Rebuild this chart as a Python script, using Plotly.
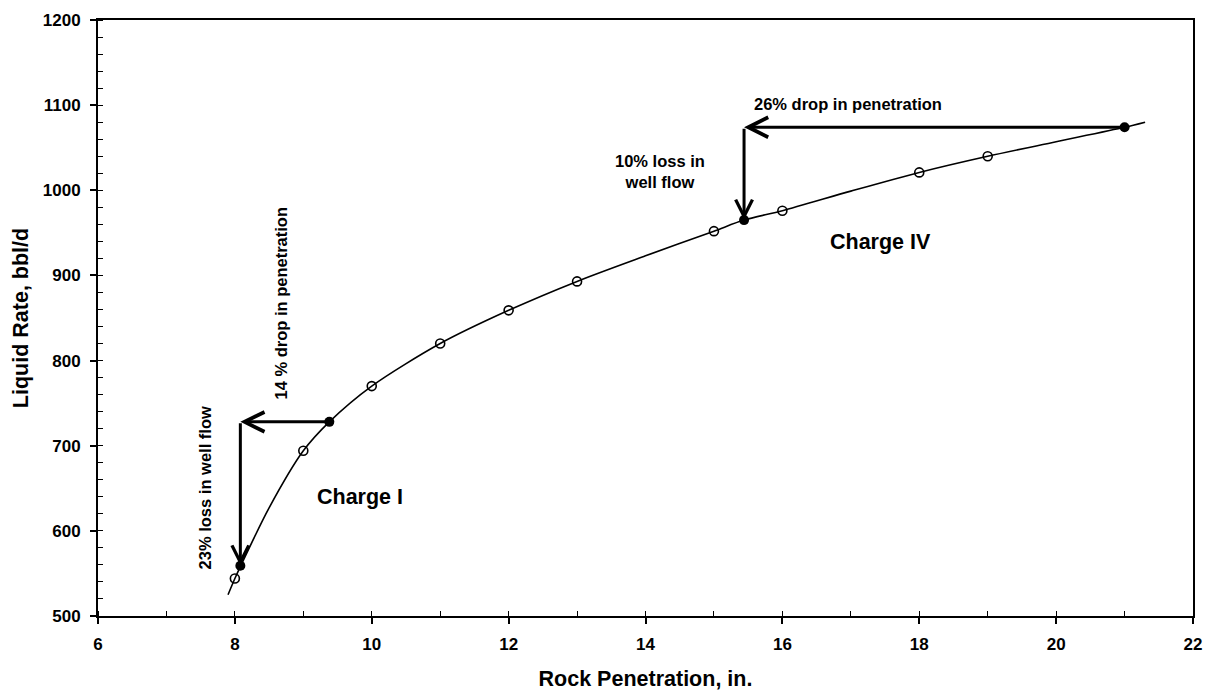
import plotly.graph_objects as go

# Fitted liquid-rate curve versus rock penetration
curve_pen = [7.9, 8.0, 8.08, 8.5, 9.0, 9.38, 10, 11, 12, 13, 14, 15, 15.44, 16, 17, 18, 19, 20, 21, 21.3]
curve_rate = [525, 544, 558, 627, 694, 728, 770, 820, 859, 893, 923, 952, 965, 976, 999, 1021, 1040, 1057, 1074, 1080]

# Computed points (open circles)
calc_pen = [8, 9, 10, 11, 12, 13, 15, 16, 18, 19]
calc_rate = [544, 694, 770, 820, 859, 893, 952, 976, 1021, 1040]

# Charge I: start / end (filled circles)
charge1_pen = [9.38, 8.08]
charge1_rate = [728, 559]

# Charge IV: start / end (filled circles)
charge4_pen = [21.0, 15.44]
charge4_rate = [1074, 965]

x_ticks = [6, 8, 10, 12, 14, 16, 18, 20, 22]
y_ticks = [500, 600, 700, 800, 900, 1000, 1100, 1200]

FONT = "Arial, Liberation Sans, sans-serif"

fig = go.Figure()

fig.add_trace(go.Scatter(
    x=curve_pen, y=curve_rate, mode="lines",
    line=dict(color="black", width=1.6, shape="spline", smoothing=0.8),
    hoverinfo="skip", showlegend=False,
))
fig.add_trace(go.Scatter(
    x=calc_pen, y=calc_rate, mode="markers",
    marker=dict(symbol="circle-open", size=9, color="black", line=dict(width=1.6, color="black")),
    showlegend=False,
))
fig.add_trace(go.Scatter(
    x=charge1_pen + charge4_pen, y=charge1_rate + charge4_rate, mode="markers",
    marker=dict(symbol="circle", size=10, color="black"),
    showlegend=False,
))


def arrow(x_from, y_from, x_to, y_to, size):
    fig.add_annotation(
        x=x_to, y=y_to, ax=x_from, ay=y_from,
        xref="x", yref="y", axref="x", ayref="y",
        text="", showarrow=True, arrowhead=5, arrowwidth=3,
        arrowsize=size, arrowcolor="black", standoff=0, startstandoff=0,
    )


# Charge I: penetration drop, then flow loss
arrow(charge1_pen[0], charge1_rate[0], charge1_pen[1], charge1_rate[0], 1.3)
arrow(charge1_pen[1], charge1_rate[0], charge1_pen[1], charge1_rate[1], 1.1)
# Charge IV: penetration drop, then flow loss
arrow(charge4_pen[0], charge4_rate[0], charge4_pen[1], charge4_rate[0], 1.3)
arrow(charge4_pen[1], charge4_rate[0], charge4_pen[1], charge4_rate[1], 1.1)

lbl = dict(family=FONT, size=16.5, color="black", weight="bold")
big = dict(family=FONT, size=21.5, color="black", weight="bold")

fig.add_annotation(x=16.96, y=1101, text="26% drop in penetration", showarrow=False, font=lbl)
fig.add_annotation(x=14.21, y=1022, text="10% loss in<br>well flow", showarrow=False, font=lbl)
fig.add_annotation(x=8.674, y=867, text="14 % drop in penetration", textangle=-90, showarrow=False, font=lbl)
fig.add_annotation(x=7.563, y=651, text="23% loss in well flow", textangle=-90, showarrow=False, font=lbl)
fig.add_annotation(x=17.44, y=939, text="Charge IV", showarrow=False, font=big)
fig.add_annotation(x=9.823, y=640, text="Charge I", showarrow=False, font=big)

axis_common = dict(
    showgrid=False, zeroline=False, automargin=False,
    showline=True, linecolor="black", linewidth=2, mirror=True,
    ticks="outside", ticklen=6, tickwidth=1.5, tickcolor="black",
    tickfont=dict(family=FONT, size=17, color="black", weight="bold"),
)

fig.update_xaxes(
    range=[6, 22], tickvals=x_ticks, ticktext=[str(v) for v in x_ticks],
    minor=dict(ticks="inside", ticklen=5, tickwidth=1.2, tickcolor="black", dtick=1, showgrid=False),
    title=dict(text="Rock Penetration, in.", font=dict(family=FONT, size=21.5, color="black", weight="bold"),
               standoff=20),
    ticklabelstandoff=6,
    **axis_common,
)
fig.update_yaxes(
    range=[500, 1200], tickvals=y_ticks, ticktext=[str(v) for v in y_ticks],
    minor=dict(ticks="inside", ticklen=5, tickwidth=1.2, tickcolor="black", dtick=20, showgrid=False),
    title=dict(text="Liquid Rate, bbl/d", font=dict(family=FONT, size=21.5, color="black", weight="bold"),
               standoff=8),
    ticklabelstandoff=6,
    **axis_common,
)

fig.update_layout(
    width=1212, height=691,
    margin=dict(l=98, r=19, t=20, b=75),
    paper_bgcolor="white", plot_bgcolor="white",
    showlegend=False,
)

fig.write_html("out.html")
